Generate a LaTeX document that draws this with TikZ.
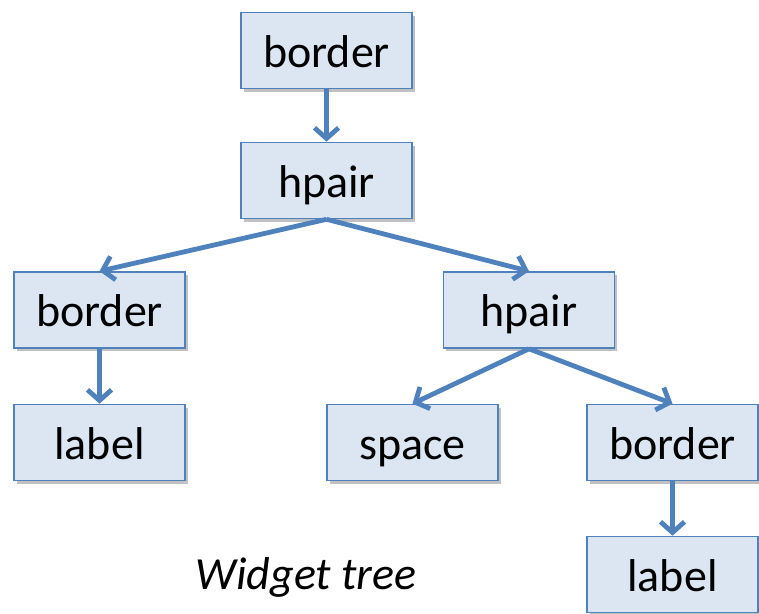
\documentclass[tikz,border=0pt]{standalone}
\usepackage{fontspec}
\setmainfont{Carlito}
\usetikzlibrary{arrows.meta,shadows}
\definecolor{boxfill}{RGB}{220,230,242}
\definecolor{boxline}{RGB}{79,129,189}
\begin{document}
\begin{tikzpicture}[x=0.75pt,y=-0.75pt,
  wbox/.style={draw=boxline, line width=1.2pt, fill=boxfill, minimum width=171*0.75pt, minimum height=76*0.75pt, inner sep=0pt, text height=25pt, text depth=0pt, font=\fontsize{34.5}{36}\selectfont, drop shadow={shadow xshift=2.2pt, shadow yshift=-2.6pt, opacity=0.35, fill=black!70}},
  conn/.style={draw=boxline, line width=3.6pt, -{Straight Barb[length=8pt, width=18pt, line width=3.6pt]}}]
\useasboundingbox (0,0) rectangle (759,613);
\node[wbox] (b1) at (326.5,50.5) {border};
\node[wbox] (h1) at (326.5,180.5) {hpair};
\node[wbox] (b2) at (99.5,310) {border};
\node[wbox] (h2) at (529,310) {hpair};
\node[wbox] (l1) at (99.5,442.5) {label};
\node[wbox] (s1) at (412.5,442.5) {space};
\node[wbox] (b3) at (672.5,442.5) {border};
\node[wbox] (l2) at (672.5,574.5) {label};
\node[font=\fontsize{34.5}{36}\selectfont\itshape] (cap) at (306,577) {Widget tree};
\draw[conn] (b1.south) -- (h1.north);
\draw[conn] (h1.south) -- (b2.north);
\draw[conn] (h1.south) -- (h2.north);
\draw[conn] (b2.south) -- (l1.north);
\draw[conn] (h2.south) -- (s1.north);
\draw[conn] (h2.south) -- (b3.north);
\draw[conn] (b3.south) -- (l2.north);
\end{tikzpicture}
\end{document}
